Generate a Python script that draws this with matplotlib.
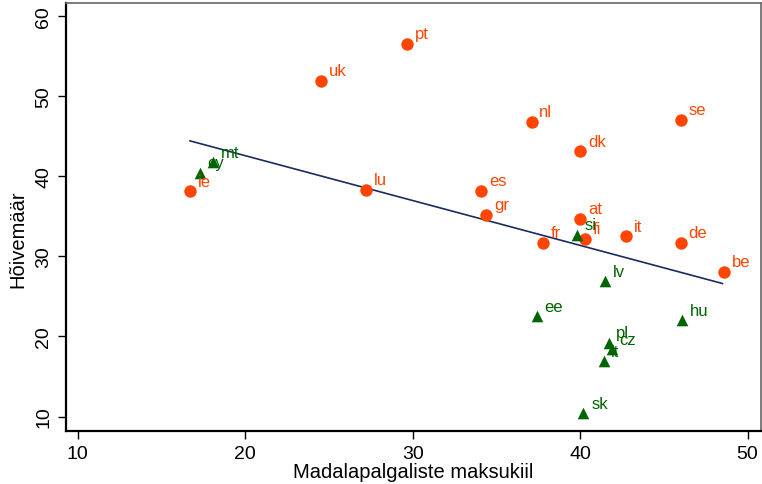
import matplotlib
matplotlib.use('Agg')
from matplotlib import pyplot as plt

# Old member states (orange circles).
old_codes = ['ie', 'uk', 'pt', 'lu', 'es', 'gr', 'nl', 'dk', 'fr', 'at',
             'fi', 'it', 'se', 'de', 'be']
old_tax = [16.7, 24.55, 29.65, 27.2, 34.1, 34.4, 37.1, 40.0, 37.8, 40.0,
           40.3, 42.75, 46.0, 46.0, 48.6]
old_emp = [38.1, 51.9, 56.5, 38.3, 38.2, 35.2, 46.8, 43.1, 31.7, 34.7,
           32.2, 32.5, 47.0, 31.7, 28.1]

# New member states (green triangles).
new_codes = ['cy', 'mt', 'si', 'lv', 'ee', 'hu', 'pl', 'cz', 'lt', 'sk']
new_tax = [17.3, 18.1, 39.8, 41.5, 37.4, 46.1, 41.7, 41.9, 41.4, 40.2]
new_emp = [40.4, 41.7, 32.7, 26.9, 22.5, 22.0, 19.2, 18.4, 16.9, 10.4]

# Fitted line.
fit_x = [16.7, 48.5]
fit_y = [44.4, 26.6]

plt.rcParams['font.family'] = ['Liberation Sans Narrow', 'Liberation Sans', 'DejaVu Sans']

fig = plt.figure(figsize=(7.62, 4.85), dpi=100)
ax = fig.add_axes([66 / 762, 1 - 432 / 485, 695 / 762, 428 / 485])

orange = '#ff4500'
green = '#006400'

ax.scatter(old_tax, old_emp, s=80, c=orange, marker='o', zorder=3, linewidths=0)
ax.scatter(new_tax, new_emp, s=70, c=green, marker='^', zorder=3, linewidths=0)
ax.plot(fit_x, fit_y, color='#1a2b5f', lw=1.2, zorder=2)

for code, x, y in zip(old_codes, old_tax, old_emp):
    ax.annotate(code, (x, y), xytext=(5.5, 4), textcoords='offset points',
                color=orange, fontsize=12, ha='left', va='baseline')
for code, x, y in zip(new_codes, new_tax, new_emp):
    ax.annotate(code, (x, y), xytext=(5.5, 4), textcoords='offset points',
                color=green, fontsize=12, ha='left', va='baseline')

ax.set_xlim(9.3, 50.8)
ax.set_ylim(8.2, 61.6)
ax.set_xticks([10, 20, 30, 40, 50])
ax.set_yticks([10, 20, 30, 40, 50, 60])
ax.tick_params(axis='both', direction='out', length=6, width=1, labelsize=14,
               colors='black', pad=4)
for lab in ax.get_yticklabels():
    lab.set_rotation(90)
    lab.set_va('center')

ax.set_xlabel('Madalapalgaliste maksukiil', fontsize=14.5, labelpad=0)
ax.set_ylabel('Hõivemäär', fontsize=14.5, labelpad=3)
ax.yaxis.set_label_coords(-0.055, 0.45)

ax.spines['left'].set_linewidth(1.6)
ax.spines['bottom'].set_linewidth(1.6)
ax.spines['top'].set_color('#666666')
ax.spines['right'].set_color('#666666')
ax.spines['top'].set_linewidth(1.2)
ax.spines['right'].set_linewidth(1.2)

fig.savefig('out.png', dpi=100)
